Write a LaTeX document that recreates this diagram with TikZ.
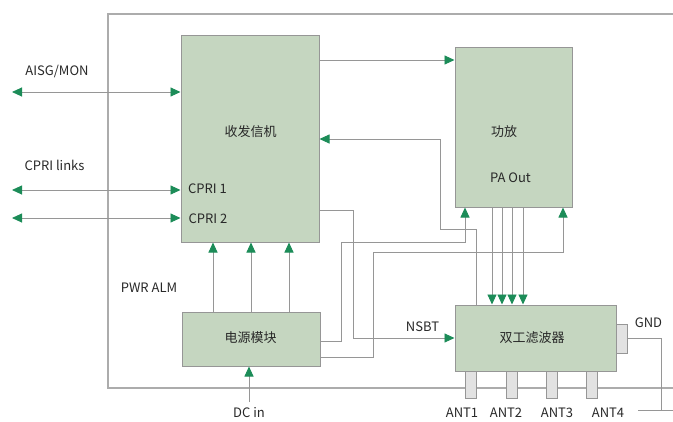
\documentclass[tikz,border=0pt]{standalone}
\usepackage{fontspec}
\setmainfont{Noto Sans CJK SC}
\usetikzlibrary{arrows.meta,positioning}
\definecolor{boxgreen}{RGB}{197,214,192}
\definecolor{tipgreen}{RGB}{28,140,88}
\definecolor{wiregray}{RGB}{150,150,150}
\definecolor{framegray}{RGB}{172,172,172}
\definecolor{plugfill}{RGB}{226,226,226}
\definecolor{txt}{RGB}{40,40,40}

\begin{document}
\begin{tikzpicture}[x=1pt,y=-1pt,
    font=\fontsize{13}{15}\selectfont, text=txt,
    block/.style={draw=wiregray,fill=boxgreen,line width=1pt,inner sep=0pt},
    plug/.style={draw=wiregray,fill=plugfill,line width=0.8pt,inner sep=0pt,minimum width=11pt},
    wire/.style={wiregray,line width=0.9pt},
    garrow/.style={wire,-{Triangle[length=10pt,width=9pt,color=tipgreen]}},
    gboth/.style={wire,{Triangle[length=10pt,width=9pt,color=tipgreen]}-{Triangle[length=10pt,width=9pt,color=tipgreen]}}]
    \useasboundingbox (0,0) rectangle (673,421);
    % Ramme om enheden
    \draw[framegray,line width=1.1pt] (673,14) -| (108,388) -- (673,388);
    % Blokke
    \node[block,minimum width=138pt,minimum height=207pt] (trx) at (250,138.5) {};
    \node[block,minimum width=117pt,minimum height=160pt] (pa) at (513.5,127) {};
    \node[block,minimum width=138pt,minimum height=54pt] (pwr) at (251,339) {};
    \node[block,minimum width=161pt,minimum height=66pt] (dup) at (535.5,338) {};
    \node[plug,minimum height=29pt] (gnd) at (621.5,338.5) {};
    \foreach \i/\x in {1/470.5,2/511.5,3/552,4/592}
      \node[plug,minimum height=27pt] (ant\i) at (\x,384.5) {};
    % Tekster
    \node (trxname) at (250.5,132) {收发信机};
    \node (cpria) at (207.5,189) {CPRI 1};
    \node (cprib) at (208,219) {CPRI 2};
    \node (paname) at (504,132) {功放};
    \node (paout) at (510.5,178) {PA Out};
    \node (pwrname) at (250.5,338) {电源模块};
    \node (dupname) at (532,338) {双工滤波器};
    \node (aisglbl) at (57,71) {AISG/MON};
    \node (cprilbl) at (54.5,165) {CPRI links};
    \node (pwralm) at (149,288) {PWR ALM};
    \node (nsbt) at (422.5,327) {NSBT};
    \node (gndlbl) at (648.5,323) {GND};
    \foreach \i/\x in {1/462,2/506,3/557,4/608}
      \node (antlbl\i) at (\x,413) {ANT\i};
    % Eksterne tilslutninger
    \coordinate (aisg) at (12,92);
    \coordinate (cprione) at (12,190);
    \coordinate (cpritwo) at (12,218);
    \coordinate (dcin) at (249,402);
    \draw[gboth] (aisg) -- (aisg -| trx.west);
    \draw[gboth] (cprione) -- (cprione -| trx.west);
    \draw[gboth] (cpritwo) -- (cpritwo -| trx.west);
    \node (dclbl) at (249,413) {DC in};
    \draw[garrow] (dcin) -- (dcin |- pwr.south);
    % Signalveje
    \draw[garrow] (trx.east |- 0,60) -- (pa.west |- 0,60);
    \draw[garrow] (dup.north -| 476,0) -- (476,229) -| (440,139) -- (trx.east |- 0,139);
    \draw[garrow] (trx.east |- 0,210) -| (353,338) -- (dup.west);
    \foreach \x in {492,502,512,523}
      \draw[garrow] (pa.south -| \x,0) -- (dup.north -| \x,0);
    % Forsyning
    \foreach \x in {213,251,289}
      \draw[garrow] (pwr.north -| \x,0) -- (trx.south -| \x,0);
    \draw[garrow] (pwr.east |- 0,341) -| (341,242) -| (pa.south -| 465,0);
    \draw[garrow] (pwr.east |- 0,357) -| (373,252) -| (pa.south -| 563,0);
    % Jord
    \coordinate (earth) at (661,410);
    \draw[wire] (gnd.east |- 0,338) -| (earth);
    \draw[wire] (earth -| 638,0) -- (earth -| 673,0);
\end{tikzpicture}
\end{document}
